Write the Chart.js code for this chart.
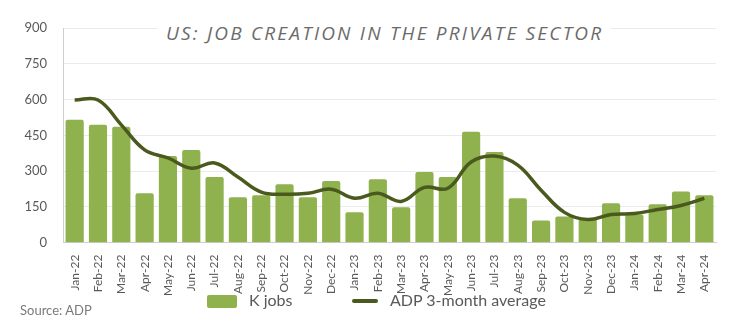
<!DOCTYPE html>
<html>
<head>
<meta charset="utf-8">
<script src="https://cdn.jsdelivr.net/npm/chart.js@4"></script>
<style>
  html, body { margin: 0; padding: 0; background: #fff; }
  #wrap { position: relative; width: 736px; height: 336px; }
  #title {
    position: absolute; left: 158px; top: 20px; padding: 0 8px;
    background: #fff; color: #6b6b6b;
    font: italic 19px "Open Sans", sans-serif; letter-spacing: 2.2px;
    white-space: nowrap;
  }
  #source {
    position: absolute; left: 20px; top: 302px;
    color: #7a7a7a; font: 13px Lato, sans-serif;
  }
  .key { position: absolute; color: #595959; font: 16px Lato, sans-serif; line-height: 16px; }
  .swatch { position: absolute; }
</style>
</head>
<body>
<div id="wrap">
  <canvas id="jobs" width="736" height="336"></canvas>
  <div id="title">US: JOB CREATION IN THE PRIVATE SECTOR</div>
  <div id="source">Source: ADP</div>
  <div id="legend"></div>
</div>
<script>
const months = [
  "Jan-22", "Feb-22", "Mar-22", "Apr-22", "May-22", "Jun-22", "Jul-22", "Aug-22",
  "Sep-22", "Oct-22", "Nov-22", "Dec-22", "Jan-23", "Feb-23", "Mar-23", "Apr-23",
  "May-23", "Jun-23", "Jul-23", "Aug-23", "Sep-23", "Oct-23", "Nov-23", "Dec-23",
  "Jan-24", "Feb-24", "Mar-24", "Apr-24"
];
const kJobs = [
  515, 494, 486, 207, 363, 389, 275, 190,
  199, 245, 190, 258, 127, 266, 148, 296,
  275, 465, 380, 186, 93, 110, 101, 165,
  118, 161, 215, 199
];
const avg3m = [
  598, 598, 494, 389, 355, 312, 334, 275,
  212, 203, 207, 224, 186, 207, 173, 232,
  228, 338, 363, 325, 220, 127, 97, 118,
  122, 139, 156, 186
];
const yTicks = [0, 150, 300, 450, 600, 750, 900];

const textGrey = "#595959";
const barGreen = "#8fb24f";
const lineOlive = "#4a5a1e";

const chart = new Chart(document.getElementById("jobs"), {
  data: {
    labels: months,
    datasets: [
      {
        type: "line",
        label: "ADP 3-month average",
        data: avg3m,
        borderColor: lineOlive,
        backgroundColor: lineOlive,
        borderWidth: 3.5,
        pointRadius: 0,
        tension: 0.4,
        order: 0
      },
      {
        type: "bar",
        label: "K jobs",
        data: kJobs,
        backgroundColor: barGreen,
        borderWidth: 0,
        borderRadius: 2,
        borderSkipped: "bottom",
        categoryPercentage: 1,
        barPercentage: 0.78,
        order: 1
      }
    ]
  },
  options: {
    responsive: false,
    animation: false,
    layout: { padding: { left: 18, right: 20, top: 28, bottom: 36 } },
    plugins: {
      tooltip: { enabled: false },
      legend: { display: false }
    },
    scales: {
      x: {
        grid: { display: false },
        border: { color: "#cfcfcf" },
        ticks: {
          color: textGrey,
          font: { family: "Lato", size: 12 },
          minRotation: 90,
          maxRotation: 90,
          autoSkip: false,
          padding: 4
        }
      },
      y: {
        min: 0,
        max: 900,
        afterBuildTicks: scale => { scale.ticks = yTicks.map(v => ({ value: v })); },
        afterFit: scale => { scale.width = 45; },
        grid: { color: "#ebebeb", drawTicks: false },
        border: { color: "#cfcfcf" },
        ticks: {
          color: textGrey,
          font: { family: "Lato", size: 13 },
          padding: 16
        }
      }
    }
  }
});

// legend row under the axis, built from the dataset colours
const legendItems = [
  { ds: chart.data.datasets[1], x: 207, w: 30, h: 13 },
  { ds: chart.data.datasets[0], x: 352, w: 26, h: 3.5 }
];
const legendEl = document.getElementById("legend");
const legendY = 301;
legendItems.forEach(({ ds, x, w, h }) => {
  const sw = document.createElement("div");
  sw.className = "swatch";
  sw.style.cssText = `left:${x}px;top:${legendY - h / 2}px;width:${w}px;height:${h}px;background:${ds.backgroundColor};border-radius:2px`;
  legendEl.appendChild(sw);
  const tx = document.createElement("div");
  tx.className = "key";
  tx.style.left = (x + w + 12) + "px";
  tx.style.top = (legendY - 9) + "px";
  tx.textContent = ds.label;
  legendEl.appendChild(tx);
});
</script>
</body>
</html>
